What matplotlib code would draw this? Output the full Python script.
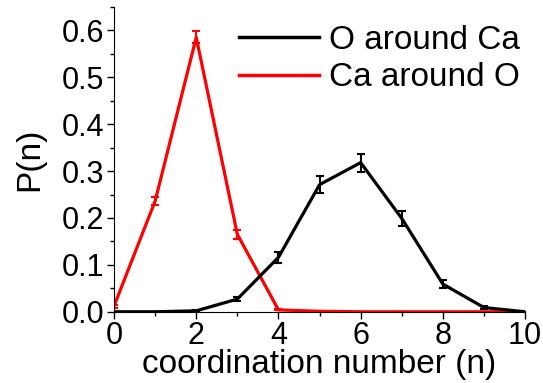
import numpy as np
import matplotlib.pyplot as plt
from matplotlib.ticker import MultipleLocator
from matplotlib.lines import Line2D

plt.rcParams['font.family'] = ['Liberation Sans', 'DejaVu Sans']

n = [0, 1, 2, 3, 4, 5, 6, 7, 8, 9, 10]

# O around Ca
p_o_ca = [0.0, 0.0, 0.002, 0.027, 0.116, 0.271, 0.318, 0.199, 0.059, 0.009, 0.0]
err_o_ca = [0.0, 0.0, 0.001, 0.005, 0.012, 0.018, 0.019, 0.016, 0.009, 0.004, 0.0]

# Ca around O
p_ca_o = [0.012, 0.236, 0.585, 0.165, 0.004, 0.001, 0.0, 0.0, 0.0, 0.0, 0.0]
err_ca_o = [0.003, 0.009, 0.013, 0.009, 0.001, 0.0, 0.0, 0.0, 0.0, 0.0, 0.0]

labels = ['O around Ca', 'Ca around O']
colors = ['black', 'red']

fig = plt.figure(figsize=(5.43, 3.83), dpi=100)
ax = fig.add_axes([0.21, 0.186, 0.757, 0.796])

ax.errorbar(n, p_o_ca, yerr=err_o_ca, color=colors[0], lw=2.3, elinewidth=1.5,
            capsize=3, capthick=1.5, zorder=3)
ax.errorbar(n, p_ca_o, yerr=err_ca_o, color=colors[1], lw=2.3, elinewidth=1.5,
            capsize=3, capthick=1.5, zorder=2)

ax.set_xlim(0, 10)
ax.set_ylim(0, 0.65)
ax.xaxis.set_major_locator(MultipleLocator(2))
ax.xaxis.set_minor_locator(MultipleLocator(1))
ax.yaxis.set_minor_locator(MultipleLocator(0.05))
ax.set_yticks(np.arange(0, 0.61, 0.1))
ax.set_yticklabels(['%.1f' % v for v in np.arange(0, 0.61, 0.1)])

for s in ['top', 'right']:
    ax.spines[s].set_visible(False)
ax.tick_params(which='major', direction='out', length=5, width=1, labelsize=22, pad=2)
ax.tick_params(which='minor', direction='out', length=3, width=1)

ax.set_xlabel('coordination number (n)', fontsize=24, labelpad=-2)
ax.set_ylabel('P(n)', fontsize=24, labelpad=12)

handles = [Line2D([], [], color=c, lw=2.5) for c in colors]
ax.legend(handles, labels, loc='upper right', frameon=False, fontsize=24,
          handlelength=2.4, handletextpad=0.3, borderaxespad=0.0,
          labelspacing=0.2, bbox_to_anchor=(1.02, 0.985))

fig.savefig('out.png', dpi=100)
